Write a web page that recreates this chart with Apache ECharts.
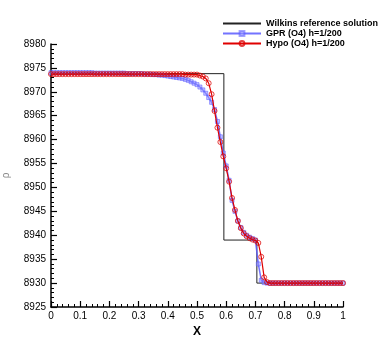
<!DOCTYPE html>
<html>
<head>
<meta charset="utf-8">
<script src="https://cdn.jsdelivr.net/npm/echarts@6/dist/echarts.min.js"></script>
<style>
html,body{margin:0;padding:0;background:#fff;}
#chart{width:390px;height:347px;}
</style>
</head>
<body>
<div id="chart"></div>
<script>
// x grid shared by both numerical solutions
const xs = [
  0.00,0.01,0.02,0.03,0.04,0.05,0.06,0.07,0.08,0.09,
  0.10,0.11,0.12,0.13,0.14,0.15,0.16,0.17,0.18,0.19,
  0.20,0.21,0.22,0.23,0.24,0.25,0.26,0.27,0.28,0.29,
  0.30,0.31,0.32,0.33,0.34,0.35,0.36,0.37,0.38,0.39,
  0.40,0.41,0.42,0.43,0.44,0.45,0.46,0.47,0.48,0.49,
  0.50,0.51,0.52,0.53,0.54,0.55,0.56,0.57,0.58,0.59,
  0.60,0.61,0.62,0.63,0.64,0.65,0.66,0.67,0.68,0.69,
  0.70,0.71,0.72,0.73,0.74,0.75,0.76,0.77,0.78,0.79,
  0.80,0.81,0.82,0.83,0.84,0.85,0.86,0.87,0.88,0.89,
  0.90,0.91,0.92,0.93,0.94,0.95,0.96,0.97,0.98,0.99,1.00
];
const gprRho = [
  8974.0,8974.0,8974.0,8974.0,8974.0,8974.0,8974.0,8974.0,8974.0,8974.0,
  8974.0,8974.0,8974.0,8974.0,8974.0,8973.9,8973.9,8973.9,8973.9,8973.9,
  8973.9,8973.9,8973.9,8973.9,8973.9,8973.9,8973.8,8973.8,8973.8,8973.8,
  8973.8,8973.8,8973.7,8973.7,8973.7,8973.6,8973.6,8973.5,8973.5,8973.4,
  8973.3,8973.2,8973.1,8973.0,8972.9,8972.8,8972.6,8972.4,8972.1,8971.8,
  8971.5,8971.0,8970.4,8969.7,8968.8,8967.8,8966.3,8963.8,8960.6,8957.2,
  8954.5,8951.5,8947.3,8945.0,8943.0,8941.6,8940.6,8940.0,8939.6,8939.3,
  8939.0,8934.0,8930.6,8930.1,8930.0,8930.0,8930.0,8930.0,8930.0,8930.0,
  8930.0,8930.0,8930.0,8930.0,8930.0,8930.0,8930.0,8930.0,8930.0,8930.0,
  8930.0,8930.0,8930.0,8930.0,8930.0,8930.0,8930.0,8930.0,8930.0,8930.0,8930.0
];
const hypoRho = [
  8973.7,8973.7,8973.7,8973.7,8973.7,8973.7,8973.7,8973.7,8973.7,8973.7,
  8973.7,8973.7,8973.7,8973.7,8973.7,8973.7,8973.7,8973.7,8973.7,8973.7,
  8973.7,8973.7,8973.7,8973.7,8973.7,8973.7,8973.7,8973.7,8973.7,8973.7,
  8973.7,8973.7,8973.7,8973.7,8973.7,8973.7,8973.7,8973.7,8973.7,8973.7,
  8973.7,8973.7,8973.7,8973.7,8973.7,8973.7,8973.6,8973.6,8973.6,8973.6,
  8973.6,8973.4,8973.2,8972.8,8971.8,8969.5,8966.0,8962.5,8959.5,8956.5,
  8954.0,8951.2,8947.8,8945.3,8943.0,8941.5,8940.4,8939.8,8939.4,8939.1,
  8938.9,8938.4,8935.5,8931.2,8930.2,8930.0,8930.0,8930.0,8930.0,8930.0,
  8930.0,8930.0,8930.0,8930.0,8930.0,8930.0,8930.0,8930.0,8930.0,8930.0,
  8930.0,8930.0,8930.0,8930.0,8930.0,8930.0,8930.0,8930.0,8930.0,8930.0,8930.0
];
// reference solution (piecewise constant)
const refX = [0, 0.592, 0.592, 0.705, 0.705, 1];
const refRho = [8973.8, 8973.8, 8939.0, 8939.0, 8930.0, 8930.0];

const names = ['Wilkins reference solution', 'GPR (O4) h=1/200', 'Hypo (O4) h=1/200'];

function pairs(x, y){
    return x.map((v, i) => [v, y[i]]);
}

const chart = echarts.init(document.getElementById('chart'));
const font = 'Liberation Sans, Arial, sans-serif';
const axisCommon = {
    axisLine: {show: true, lineStyle: {color: '#000', width: 1.5}},
    axisTick: {show: true, inside: true, length: 6, lineStyle: {color: '#000', width: 1.2}},
    minorTick: {show: true, splitNumber: 5, length: 3, lineStyle: {color: '#000', width: 1}},
    splitLine: {show: false},
    axisLabel: {color: '#000', fontSize: 10, fontFamily: font}
};

chart.setOption({
    animation: false,
    backgroundColor: '#fff',
    grid: {left: 51, right: 47, top: 44, bottom: 40, containLabel: false, outerBoundsMode: 'none'},
    legend: {
        orient: 'vertical',
        left: 217,
        top: 14,
        itemWidth: 38,
        itemHeight: 6,
        itemGap: 1,
        textStyle: {fontSize: 9, fontWeight: 'bold', fontFamily: font, color: '#000'},
        data: [
            {name: names[0], itemStyle: {opacity: 0}},
            {name: names[1]},
            {name: names[2]}
        ]
    },
    xAxis: Object.assign({}, axisCommon, {
        type: 'value',
        min: 0, max: 1, interval: 0.1,
        name: 'X',
        nameLocation: 'middle',
        nameGap: 19,
        nameTextStyle: {fontSize: 12, fontWeight: 'bold', fontFamily: font, color: '#000'},
        axisLabel: Object.assign({}, axisCommon.axisLabel, {
            margin: 4,
            formatter: v => String(Math.round(v * 10) / 10)
        })
    }),
    yAxis: Object.assign({}, axisCommon, {
        type: 'value',
        min: 8925, max: 8980, interval: 5,
        name: 'ρ',
        nameLocation: 'middle',
        nameGap: 40,
        nameRotate: 90,
        nameTextStyle: {fontSize: 10, fontFamily: font, color: '#888'},
        axisLabel: Object.assign({}, axisCommon.axisLabel, {
            margin: 5,
            formatter: v => String(v)
        })
    }),
    series: [
        {
            name: names[0],
            type: 'line',
            data: pairs(refX, refRho),
            symbol: 'none',
            lineStyle: {color: '#222', width: 1},
            itemStyle: {color: '#222'},
            z: 1
        },
        {
            name: names[1],
            type: 'line',
            data: pairs(xs, gprRho),
            symbol: 'rect',
            symbolSize: 4,
            showAllSymbol: true,
            lineStyle: {color: 'rgba(90,90,255,0.85)', width: 1.5},
            itemStyle: {color: 'rgba(150,150,255,0.5)', borderColor: 'rgba(90,90,255,0.55)', borderWidth: 1},
            z: 2
        },
        {
            name: names[2],
            type: 'line',
            data: pairs(xs, hypoRho),
            symbol: 'circle',
            symbolSize: 5,
            showAllSymbol: true,
            lineStyle: {color: '#e00000', width: 1.2},
            itemStyle: {color: 'rgba(255,255,255,0)', borderColor: 'rgba(220,0,0,0.75)', borderWidth: 1},
            z: 3
        }
    ]
});
</script>
</body>
</html>
